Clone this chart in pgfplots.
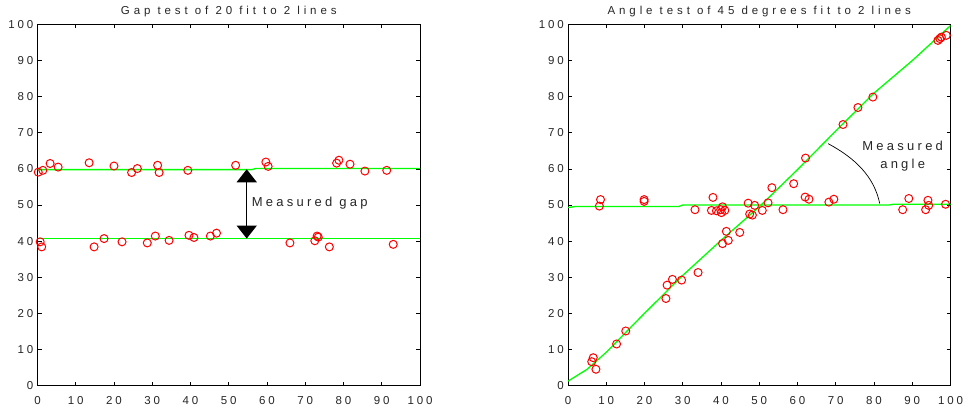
\documentclass[border=0pt]{standalone}
\usepackage{fontspec}
\setmainfont{Liberation Sans}[LetterSpace=25]
\newfontfamily\titlefont{Liberation Sans}[LetterSpace=34]
\usepackage{pgfplots}
\pgfplotsset{compat=1.18}
\usetikzlibrary{arrows.meta}
\definecolor{mred}{RGB}{255,0,0}
\definecolor{mgreen}{RGB}{0,255,0}
\pgfplotsset{
  mstyle/.style={
    scale only axis, width=382.5pt, height=361pt, anchor=south west,
    xmin=0, xmax=100, ymin=0, ymax=100,
    xtick={0,10,...,100}, ytick={0,10,...,100},
    tick align=inside, tick pos=both, major tick length=4pt,
    axis line style={line width=0.9pt},
    every tick/.style={black, line width=0.6pt},
    ticklabel style={font=\fontsize{11.5}{12}\selectfont, text=black!85},
    /pgf/number format/assume math mode=true,
    xticklabel style={anchor=north, inner sep=0pt, yshift=-11pt},
    yticklabel style={anchor=east, inner sep=0pt, xshift=-4pt},
    clip=false,
  },
  pts/.style={only marks, mark=o, mark size=4pt, mred, mark options={line width=1pt}},
  fit/.style={mgreen, line width=1.3pt, no markers},
}
\begin{document}
\begin{tikzpicture}[x=1pt,y=1pt]
\useasboundingbox (0pt,0pt) rectangle (971pt,413pt);
% ---------------- Left: gap test
\begin{axis}[mstyle, at={(37.5pt,27.5pt)}]
\addplot[fit] coordinates {(0,59.8) (56,59.8) (57,60.1) (100,60.1)};
\addplot[fit] coordinates {(0,40.7) (100,40.7)};
\addplot[pts] coordinates {
(0.2,59.1) (1.4,59.6) (3.3,61.5) (5.4,60.5) (13.5,61.7) (20.0,60.8)
(24.6,59.0) (26.1,60.1) (31.4,61.0) (31.8,59.0) (39.3,59.6) (51.8,61.0)
(59.7,61.9) (60.3,60.7) (78.2,61.6) (78.8,62.4) (81.7,61.3) (85.6,59.4) (91.3,59.6)
};
\addplot[pts] coordinates {
(0.7,39.8) (1.1,38.4) (14.8,38.4) (17.4,40.7) (22.1,39.8) (28.7,39.5)
(30.8,41.4) (34.4,40.2) (39.6,41.6) (40.9,41.0) (45.2,41.4) (46.8,42.2)
(66.0,39.5) (72.5,40.1) (73.1,41.4) (73.4,41.1) (76.3,38.4) (93.0,39.1)
};
\draw[black, line width=1.5pt, {Triangle[width=20pt,length=13pt]}-{Triangle[width=20pt,length=13pt]}]
  (axis cs:54.7,59.9) -- (axis cs:54.7,40.7);
\node[anchor=west, inner sep=0pt, font=\fontsize{13}{14}\selectfont, text=black!85] at (axis cs:56,50.4) {Measured gap};
\node[anchor=base, inner sep=0pt, font=\titlefont\fontsize{11.5}{12}\selectfont, text=black!85, yshift=10pt] at (axis description cs:0.5,1) {Gap test of 20 fit to 2 lines};
\end{axis}
% ---------------- Right: angle test
\begin{axis}[mstyle, at={(568pt,27.5pt)}]
\addplot[fit] coordinates {(0,49.3) (2,49.6) (29,49.6) (30,50.0) (84,50.0) (85,50.2) (100,50.2)};
\addplot[fit] coordinates {(0,1.2) (5,4.5) (10,9.2) (20,20.0) (30,30.5) (40,40.2) (50,49.5) (60,59.8) (70,70.5) (80,81.0) (90,90.0) (100,99.7)};
\addplot[pts] coordinates {
(8.5,51.5) (8.2,49.7) (19.9,51.5) (19.9,51.0) (33.2,48.7) (37.9,52.1)
(37.5,48.5) (38.8,48.4) (39.9,48.7) (40.4,49.5) (40.1,47.9) (41.0,48.5)
(47.1,50.5) (48.8,49.9) (52.3,50.6) (50.8,48.5) (48.2,47.2) (56.2,48.7)
(62.0,52.2) (63.0,51.6) (68.2,50.8) (69.5,51.6) (87.5,48.7) (89.1,51.8)
(94.1,51.3) (93.5,48.7) (94.3,49.9) (98.7,50.2)
};
\addplot[pts] coordinates {
(6.2,6.6) (6.6,7.7) (7.3,4.5) (12.7,11.5) (15.1,15.1) (25.6,24.1)
(25.9,27.8) (27.3,29.4) (29.7,29.2) (34.0,31.3) (40.4,39.3) (41.4,42.7)
(41.9,40.2) (44.9,42.4) (47.5,47.5) (53.3,54.8) (59.0,55.9) (62.1,63.0)
(71.9,72.3) (75.8,77.0) (79.7,79.9) (96.7,95.6) (97.2,96.1) (97.6,96.5) (98.9,97.0)
};
\draw[black, line width=0.7pt] (axis cs:68,67.0) .. controls (axis cs:75,63) and (axis cs:80,58) .. (axis cs:81.5,50.4);
\node[align=center, inner sep=0pt, font=\fontsize{13}{18.5}\selectfont, text=black!85] at (axis cs:87.5,63.6) {Measured\\angle};
\node[anchor=base, inner sep=0pt, font=\titlefont\fontsize{11.5}{12}\selectfont, text=black!85, yshift=10pt] at (axis description cs:0.5,1) {Angle test of 45 degrees fit to 2 lines};
\end{axis}
\end{tikzpicture}
\end{document}
